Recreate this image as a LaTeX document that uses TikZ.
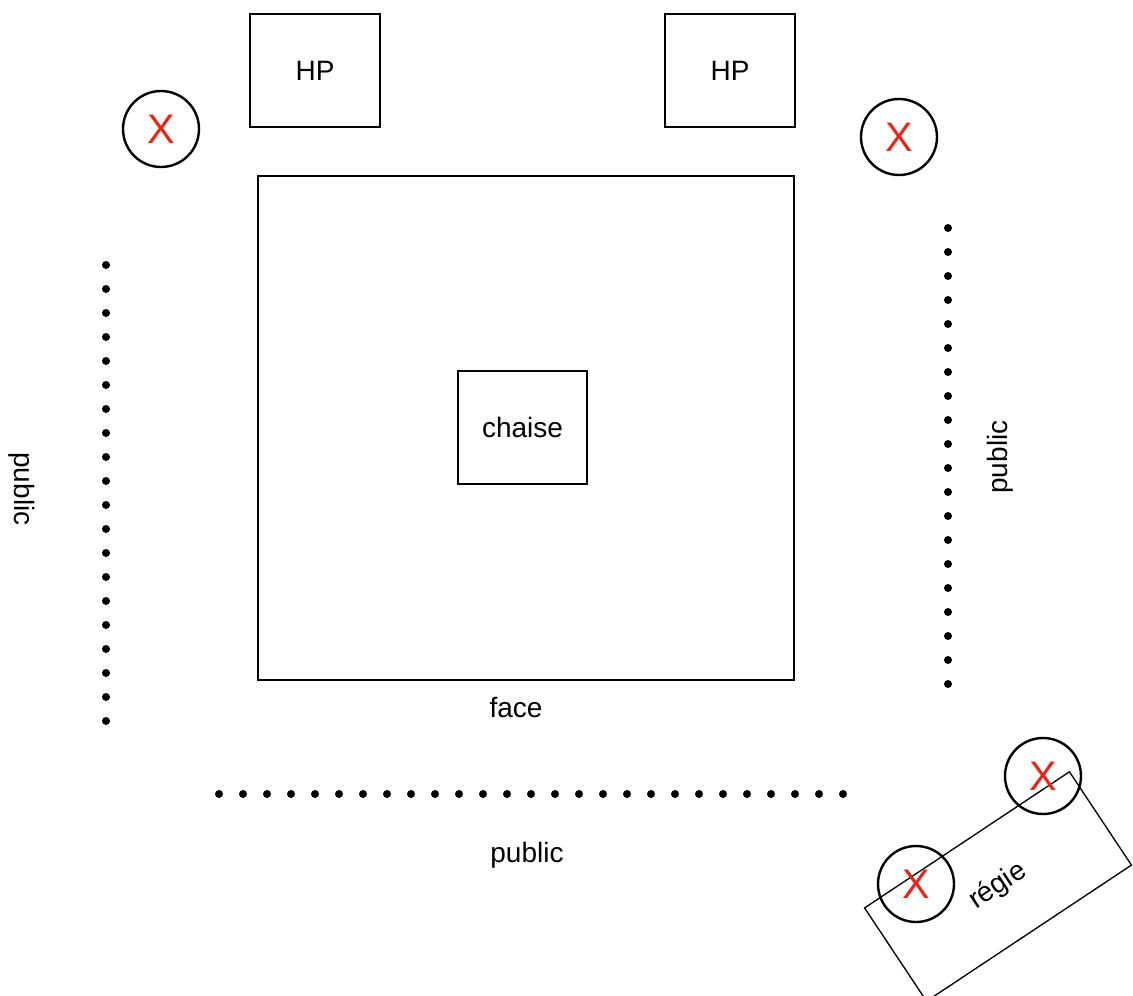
\documentclass[tikz,border=0pt]{standalone}
\usepackage{fontspec}
\setmainfont{Liberation Sans}
\definecolor{xred}{RGB}{232,38,24}
\tikzset{
	box/.style={draw, line width=0.9pt, inner sep=0pt},
	spot/.style={draw, circle, line width=1.8pt, minimum size=57pt, inner sep=0pt,
		text=xred, font=\fontsize{31}{33}\selectfont},
	lbl/.style={font=\fontsize{21}{24}\selectfont},
}
\begin{document}
	\begin{tikzpicture}[x=0.75pt, y=-0.75pt, lbl]
		\useasboundingbox (0, 0) rectangle (1133, 996);

		% HP
		\node[box, minimum width=97.5pt, minimum height=84.75pt] (hpl) at (315, 70.5) {HP};
		\node[box, minimum width=97.5pt, minimum height=84.75pt] (hpr) at (730, 70.5) {HP};

		% X
		\node[spot] (xl) at (161, 129) {X};
		\node[spot] (xr) at (899, 137) {X};

		% scene
		\node[draw, line width=2pt, minimum width=402pt, minimum height=378pt] (scene) at (526, 428) {};
		\node[box, minimum width=96.75pt, minimum height=84.75pt] (chaise) at (522.5, 427.5) {chaise};
		\node (face) at (516, 707) {face};

		% public
		\foreach \i in {0, ..., 19} {
			\fill (106, 265+24*\i) circle (3pt);
			\fill (948, 228+24*\i) circle (3pt);
		}
		\foreach \i in {0, ..., 26}
			\fill (219+24*\i, 794) circle (3pt);
		\node[rotate=-90] (publ) at (22, 489) {public};
		\node[rotate=90] (pubr) at (1000, 457) {public};
		\node (pubb) at (527, 855) {public};

		% régie
		\node[box, line width=1pt, rotate=33.6, minimum width=184.5pt, minimum height=84pt] (regie) at (998, 886.5) {};
		\node[rotate=33.6, inner sep=1pt] (regielbl) at (998, 886) {régie};
		\node[spot] (xa) at (916, 884) {X};
		\node[spot] (xb) at (1043, 776) {X};
	\end{tikzpicture}
\end{document}
